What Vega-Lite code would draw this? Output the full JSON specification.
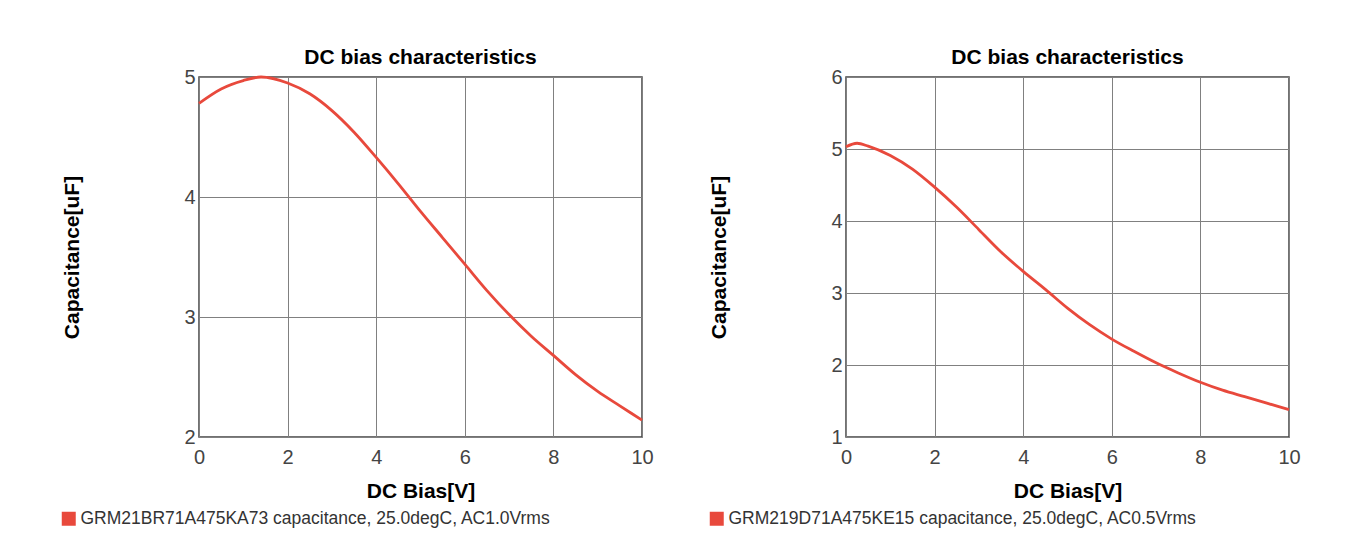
{
  "$schema": "https://vega.github.io/schema/vega-lite/v6.json",
  "background": "white",
  "padding": {"left": 59, "top": 46, "right": 5, "bottom": 5},
  "datasets": {
    "a": [
      {"bias": 0, "cap": 4.78, "series": "GRM21BR71A475KA73 capacitance, 25.0degC, AC1.0Vrms"},
      {"bias": 0.5, "cap": 4.9, "series": "GRM21BR71A475KA73 capacitance, 25.0degC, AC1.0Vrms"},
      {"bias": 1, "cap": 4.97, "series": "GRM21BR71A475KA73 capacitance, 25.0degC, AC1.0Vrms"},
      {"bias": 1.4, "cap": 5.0, "series": "GRM21BR71A475KA73 capacitance, 25.0degC, AC1.0Vrms"},
      {"bias": 2, "cap": 4.95, "series": "GRM21BR71A475KA73 capacitance, 25.0degC, AC1.0Vrms"},
      {"bias": 2.5, "cap": 4.86, "series": "GRM21BR71A475KA73 capacitance, 25.0degC, AC1.0Vrms"},
      {"bias": 3, "cap": 4.72, "series": "GRM21BR71A475KA73 capacitance, 25.0degC, AC1.0Vrms"},
      {"bias": 3.5, "cap": 4.54, "series": "GRM21BR71A475KA73 capacitance, 25.0degC, AC1.0Vrms"},
      {"bias": 4, "cap": 4.33, "series": "GRM21BR71A475KA73 capacitance, 25.0degC, AC1.0Vrms"},
      {"bias": 4.5, "cap": 4.11, "series": "GRM21BR71A475KA73 capacitance, 25.0degC, AC1.0Vrms"},
      {"bias": 5, "cap": 3.88, "series": "GRM21BR71A475KA73 capacitance, 25.0degC, AC1.0Vrms"},
      {"bias": 5.5, "cap": 3.66, "series": "GRM21BR71A475KA73 capacitance, 25.0degC, AC1.0Vrms"},
      {"bias": 6, "cap": 3.44, "series": "GRM21BR71A475KA73 capacitance, 25.0degC, AC1.0Vrms"},
      {"bias": 6.5, "cap": 3.22, "series": "GRM21BR71A475KA73 capacitance, 25.0degC, AC1.0Vrms"},
      {"bias": 7, "cap": 3.02, "series": "GRM21BR71A475KA73 capacitance, 25.0degC, AC1.0Vrms"},
      {"bias": 7.5, "cap": 2.84, "series": "GRM21BR71A475KA73 capacitance, 25.0degC, AC1.0Vrms"},
      {"bias": 8, "cap": 2.68, "series": "GRM21BR71A475KA73 capacitance, 25.0degC, AC1.0Vrms"},
      {"bias": 8.5, "cap": 2.52, "series": "GRM21BR71A475KA73 capacitance, 25.0degC, AC1.0Vrms"},
      {"bias": 9, "cap": 2.38, "series": "GRM21BR71A475KA73 capacitance, 25.0degC, AC1.0Vrms"},
      {"bias": 9.5, "cap": 2.26, "series": "GRM21BR71A475KA73 capacitance, 25.0degC, AC1.0Vrms"},
      {"bias": 10, "cap": 2.14, "series": "GRM21BR71A475KA73 capacitance, 25.0degC, AC1.0Vrms"}
    ],
    "b": [
      {"bias": 0, "cap": 5.03, "series": "GRM219D71A475KE15 capacitance, 25.0degC, AC0.5Vrms"},
      {"bias": 0.25, "cap": 5.08, "series": "GRM219D71A475KE15 capacitance, 25.0degC, AC0.5Vrms"},
      {"bias": 0.5, "cap": 5.04, "series": "GRM219D71A475KE15 capacitance, 25.0degC, AC0.5Vrms"},
      {"bias": 1, "cap": 4.91, "series": "GRM219D71A475KE15 capacitance, 25.0degC, AC0.5Vrms"},
      {"bias": 1.5, "cap": 4.72, "series": "GRM219D71A475KE15 capacitance, 25.0degC, AC0.5Vrms"},
      {"bias": 2, "cap": 4.47, "series": "GRM219D71A475KE15 capacitance, 25.0degC, AC0.5Vrms"},
      {"bias": 2.5, "cap": 4.19, "series": "GRM219D71A475KE15 capacitance, 25.0degC, AC0.5Vrms"},
      {"bias": 3, "cap": 3.88, "series": "GRM219D71A475KE15 capacitance, 25.0degC, AC0.5Vrms"},
      {"bias": 3.5, "cap": 3.57, "series": "GRM219D71A475KE15 capacitance, 25.0degC, AC0.5Vrms"},
      {"bias": 4, "cap": 3.3, "series": "GRM219D71A475KE15 capacitance, 25.0degC, AC0.5Vrms"},
      {"bias": 4.5, "cap": 3.05, "series": "GRM219D71A475KE15 capacitance, 25.0degC, AC0.5Vrms"},
      {"bias": 5, "cap": 2.79, "series": "GRM219D71A475KE15 capacitance, 25.0degC, AC0.5Vrms"},
      {"bias": 5.5, "cap": 2.56, "series": "GRM219D71A475KE15 capacitance, 25.0degC, AC0.5Vrms"},
      {"bias": 6, "cap": 2.36, "series": "GRM219D71A475KE15 capacitance, 25.0degC, AC0.5Vrms"},
      {"bias": 6.5, "cap": 2.19, "series": "GRM219D71A475KE15 capacitance, 25.0degC, AC0.5Vrms"},
      {"bias": 7, "cap": 2.03, "series": "GRM219D71A475KE15 capacitance, 25.0degC, AC0.5Vrms"},
      {"bias": 7.5, "cap": 1.89, "series": "GRM219D71A475KE15 capacitance, 25.0degC, AC0.5Vrms"},
      {"bias": 8, "cap": 1.76, "series": "GRM219D71A475KE15 capacitance, 25.0degC, AC0.5Vrms"},
      {"bias": 8.5, "cap": 1.65, "series": "GRM219D71A475KE15 capacitance, 25.0degC, AC0.5Vrms"},
      {"bias": 9, "cap": 1.56, "series": "GRM219D71A475KE15 capacitance, 25.0degC, AC0.5Vrms"},
      {"bias": 9.5, "cap": 1.47, "series": "GRM219D71A475KE15 capacitance, 25.0degC, AC0.5Vrms"},
      {"bias": 10, "cap": 1.38, "series": "GRM219D71A475KE15 capacitance, 25.0degC, AC0.5Vrms"}
    ]
  },
  "spacing": 53,
  "resolve": {"scale": {"color": "independent", "y": "independent"}},
  "hconcat": [
    {
      "title": {"text": "DC bias characteristics"},
      "width": 443,
      "height": 360,
      "data": {"name": "a"},
      "mark": {"type": "line", "strokeWidth": 2.8, "interpolate": "monotone"},
      "encoding": {
        "x": {"field": "bias", "type": "quantitative", "title": "DC Bias[V]",
              "scale": {"domain": [0, 10], "nice": false},
              "axis": {"values": [0, 2, 4, 6, 8, 10]}},
        "y": {"field": "cap", "type": "quantitative", "title": "Capacitance[uF]",
              "scale": {"domain": [2, 5], "nice": false, "zero": false},
              "axis": {"values": [2, 3, 4, 5]}},
        "color": {"field": "series", "type": "nominal",
                  "scale": {"range": ["#e8493c"]},
                  "legend": {"title": null, "orient": "none", "legendX": -139, "legendY": 433}}
      }
    },
    {
      "title": {"text": "DC bias characteristics"},
      "width": 443,
      "height": 360,
      "data": {"name": "b"},
      "mark": {"type": "line", "strokeWidth": 2.8, "interpolate": "monotone"},
      "encoding": {
        "x": {"field": "bias", "type": "quantitative", "title": "DC Bias[V]",
              "scale": {"domain": [0, 10], "nice": false},
              "axis": {"values": [0, 2, 4, 6, 8, 10]}},
        "y": {"field": "cap", "type": "quantitative", "title": "Capacitance[uF]",
              "scale": {"domain": [1, 6], "nice": false, "zero": false},
              "axis": {"values": [1, 2, 3, 4, 5, 6]}},
        "color": {"field": "series", "type": "nominal",
                  "scale": {"range": ["#e8493c"]},
                  "legend": {"title": null, "orient": "none", "legendX": -138, "legendY": 433}}
      }
    }
  ],
  "config": {
    "font": "Liberation Sans",
    "view": {"stroke": "#444444", "strokeWidth": 1.5},
    "title": {"fontSize": 21, "fontWeight": "bold", "color": "#000000", "anchor": "middle", "offset": -1},
    "axis": {
      "domain": false,
      "ticks": false,
      "grid": true,
      "gridColor": "#808080",
      "gridOpacity": 1,
      "gridWidth": 1,
      "labelFontSize": 20,
      "labelColor": "#444444",
      "labelFlush": false,
      "titleFontSize": 21,
      "titleFontWeight": "bold",
      "titleColor": "#000000"
    },
    "axisX": {"labelPadding": 10, "titlePadding": 13},
    "axisY": {"labelPadding": 4, "titlePadding": 101},
    "legend": {
      "symbolType": "square",
      "symbolSize": 196,
      "symbolStrokeWidth": 0,
      "symbolFillColor": "#e8493c",
      "symbolOpacity": 1,
      "labelFontSize": 17.5,
      "labelColor": "#333333",
      "labelOffset": 3,
      "labelLimit": 0
    }
  }
}
